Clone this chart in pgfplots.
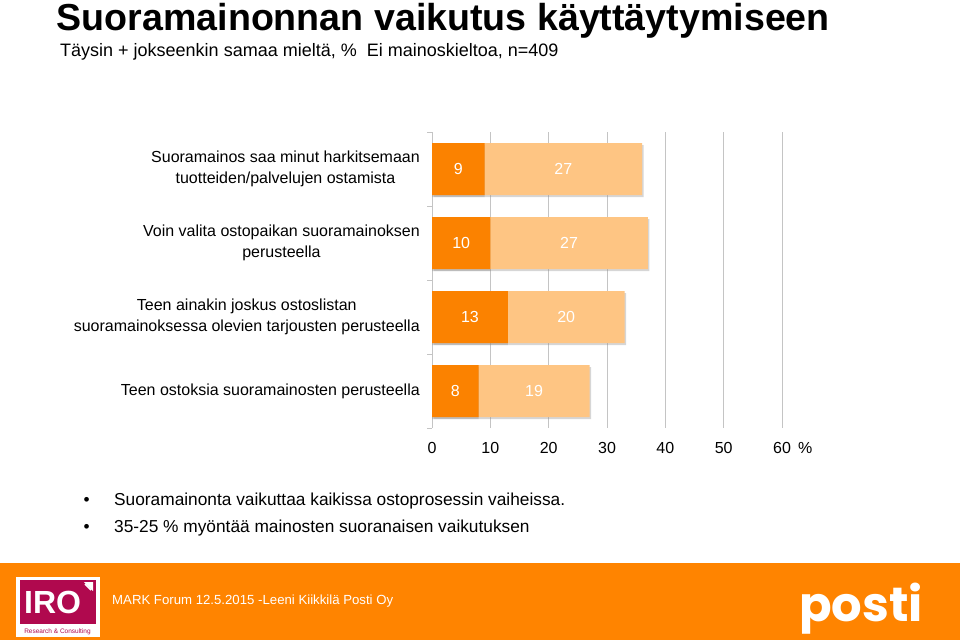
\documentclass[border=0pt]{standalone}
\usepackage{pgfplots}
\pgfplotsset{compat=1.18}
\usepackage{fontspec}
\setmainfont{Liberation Sans}
\newfontfamily\postifont{Poppins}
\usetikzlibrary{shadows}
\definecolor{darkor}{HTML}{FB8200}
\definecolor{lightor}{HTML}{FEC583}
\definecolor{footor}{HTML}{FF8400}
\definecolor{gridc}{HTML}{C4C4C4}
\definecolor{iro}{HTML}{B0094E}
\begin{document}
\begin{tikzpicture}[x=1pt,y=1pt]
\useasboundingbox (0,0) rectangle (960,640);
\fill[white] (0,0) rectangle (960,640);
% titles
\node[anchor=base west, inner sep=0, font=\fontsize{37.6}{40}\selectfont\bfseries] at (56.5,609) {Suoramainonnan vaikutus käyttäytymiseen};
\node[anchor=base west, inner sep=0, font=\fontsize{18}{20}\selectfont] at (60,583) {Täysin + jokseenkin samaa mieltä, \%\ \ Ei mainoskieltoa, n=409};

\begin{axis}[
  at={(432pt,212pt)}, anchor=south west,
  scale only axis, width=350pt, height=296pt,
  xmin=0, xmax=60, ymin=-0.5, ymax=3.5, y dir=reverse,
  axis line style={draw=none},
  xtick={0,10,20,30,40,50,60},
  xmajorgrids, grid style={draw=gridc, line width=0.9pt},
  ytick={0,1,2,3},
  yticklabels={{Suoramainos saa minut harkitsemaan\\tuotteiden/palvelujen ostamista},
               {Voin valita ostopaikan suoramainoksen\\perusteella},
               {Teen ainakin joskus ostoslistan\\suoramainoksessa olevien tarjousten perusteella},
               {Teen ostoksia suoramainosten perusteella}},
  yticklabel style={align=center, font=\fontsize{16}{20.5}\selectfont, xshift=-8.7pt},
  xticklabel style={font=\fontsize{16}{18}\selectfont, yshift=-10.5pt},
  /pgf/number format/assume math mode=true,
  major tick length=0pt,
  tick style={draw=gridc, line width=0.9pt},
  xtick pos=bottom, ytick pos=left,
  extra y ticks={-0.5,0.5,1.5,2.5,3.5}, extra y tick labels={},
  extra y tick style={major tick length=5pt, tick align=outside, grid=none},
  clip=false,
]
\draw[gridc, line width=0.9pt] (axis cs:0,-0.5) -- (axis cs:0,3.5);
% totals (agree fully + partly) drawn first, then "fully agree" share on top
\addplot[xbar, bar width=52pt, bar shift=0pt, fill=lightor, draw=none,
  drop shadow={shadow xshift=1.5pt, shadow yshift=-2pt, fill=black!45, opacity=0.35}]
  coordinates {(36,0) (37,1) (33,2) (27,3)};
\addplot[xbar, bar width=52pt, bar shift=0pt, fill=darkor, draw=none,
  drop shadow={shadow xshift=0pt, shadow yshift=-2pt, fill=black!45, opacity=0.35}]
  coordinates {(9,0) (10,1) (13,2) (8,3)};
\addplot[draw=none, mark=none, point meta=explicit symbolic, nodes near coords,
  nodes near coords style={anchor=center, inner sep=0pt, text=white, font=\fontsize{16}{18}\selectfont}]
  table[meta=l] {
x y l
4.5 0 9
22.5 0 27
5 1 10
23.5 1 27
6.5 2 13
23 2 20
4 3 8
17.5 3 19
};
\node[anchor=base west, inner sep=0, font=\fontsize{16}{18}\selectfont] at (rel axis cs:1,0) [xshift=16pt, yshift=-25pt] {\%};
\end{axis}

% bullets
\node[anchor=base west, inner sep=0, font=\fontsize{17.3}{20}\selectfont] at (83.5,135) {•};
\node[anchor=base west, inner sep=0, font=\fontsize{17.3}{20}\selectfont] at (114,135) {Suoramainonta vaikuttaa kaikissa ostoprosessin vaiheissa.};
\node[anchor=base west, inner sep=0, font=\fontsize{17.3}{20}\selectfont] at (83.5,107.5) {•};
\node[anchor=base west, inner sep=0, font=\fontsize{17.3}{20}\selectfont] at (114,107.5) {35-25 \% myöntää mainosten suoranaisen vaikutuksen};

% footer
\fill[footor] (0,0) rectangle (960,77);
\fill[white] (15.5,3.5) rectangle (99.5,63);
\fill[iro] (20,16) rectangle (96,60);
\node[anchor=base west, inner sep=0, text=white, font=\fontsize{32}{34}\selectfont\bfseries] at (24,27) {IRO};
\draw[white, line width=1.6pt] (85,56) -- (91,50);
\fill[white] (84,58) -- (93,58) -- (93,49) -- cycle;
\node[anchor=base, inner sep=0, text=iro, font=\fontsize{6.5}{7}\selectfont] at (57.5,7) {Research \& Consulting};
\node[anchor=base west, inner sep=0, text=white, font=\fontsize{13.2}{15}\selectfont] at (112,36) {MARK Forum 12.5.2015 -Leeni Kiikkilä Posti Oy};
\node[anchor=base west, inner sep=0, text=white, font=\postifont\fontsize{48}{50}\selectfont\bfseries] at (799,19) {posti};
\end{tikzpicture}
\end{document}
